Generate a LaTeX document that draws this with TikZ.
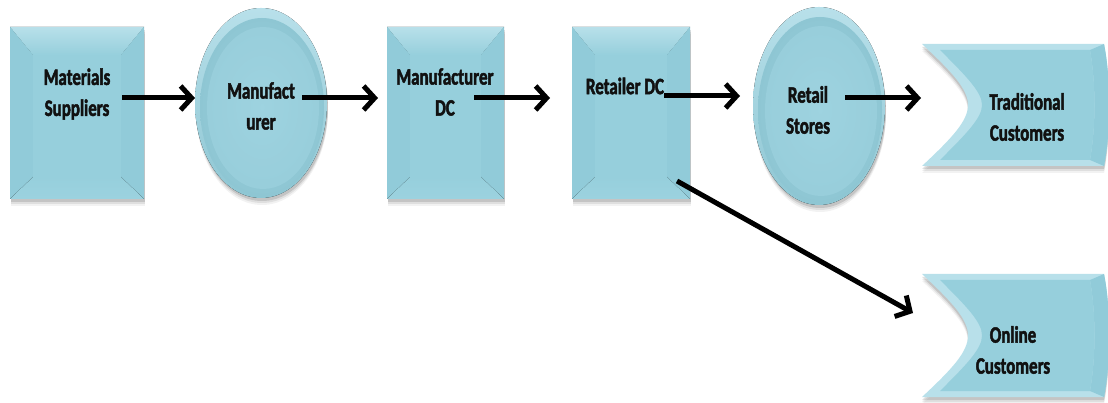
\documentclass[tikz,border=0pt]{standalone}
\usepackage{fontspec}
\setmainfont{Carlito}[FakeStretch=0.72, BoldFeatures={FakeBold=2}]
\usetikzlibrary{arrows.meta,shapes.geometric,calc}

\definecolor{aquabase}{HTML}{96CFDC}
\definecolor{aqualight}{HTML}{B8E0EA}
\definecolor{aquaside}{HTML}{91CBD9}
\definecolor{aquabottom}{HTML}{9CD2DF}
\definecolor{aquarim}{HTML}{8EC6D3}
\definecolor{aquacore}{HTML}{9ED3E0}
\definecolor{labelink}{HTML}{111111}

% bevelled rectangle: x1, y1, x2, y2 (y grows downwards)
\newcommand\bevelbox[4]{%
  \foreach \s/\o in {7/0.05,5/0.08,3/0.12}{%
    \fill[black,opacity=\o] (#1+1,#2+\s) rectangle (#3+1,#4+\s);}
  \fill[aquabase] (#1,#2) rectangle (#3,#4);
  \fill[top color=aqualight,bottom color=aquabase]
    (#1,#2) -- (#3,#2) -- (#3-23,#2+28) -- (#1+23,#2+28) -- cycle;
  \fill[aquaside] (#1,#2) -- (#1+23,#2+28) -- (#1+23,#4-22) -- (#1,#4) -- cycle;
  \fill[aquaside] (#3,#2) -- (#3-23,#2+28) -- (#3-23,#4-22) -- (#3,#4) -- cycle;
  \fill[top color=aquabase,bottom color=aquabottom]
    (#1,#4) -- (#1+23,#4-22) -- (#3-23,#4-22) -- (#3,#4) -- cycle;
  \fill[aquabase] (#1+23,#2+28) rectangle (#3-23,#4-22);
}

% oval with a soft rim: cx, cy, rx, ry
\newcommand\ovalshape[4]{%
  \foreach \s/\o in {7/0.05,5/0.08,3/0.12}{%
    \fill[black,opacity=\o] (#1+1,#2+\s) ellipse [x radius=#3, y radius=#4];}
  \fill[top color=aqualight,bottom color=aquarim]
    (#1,#2) ellipse [x radius=#3, y radius=#4];
  \shade[inner color=aquacore,outer color=aquarim]
    (#1+1,#2+4) ellipse [x radius=#3-4, y radius=#4-6];
  \fill[aquacore,opacity=0.6]
    (#1+2,#2+5) ellipse [x radius=#3-10, y radius=#4-14];
}

% card with a hollow left side: y1, y2
\newcommand\waveshape[2]{%
  \foreach \s/\o in {7/0.05,5/0.08,3/0.12}{%
    \fill[black,opacity=\o] (922,#1+\s) -- (1104,#1+\s)
      .. controls (1111,#1+\s+35) and (1111,#2+\s-35) .. (1104,#2+\s)
      -- (922,#2+\s)
      .. controls (952,#2+\s-28) and (968,#2+\s-45) .. (968,{(#1+#2)/2+\s})
      .. controls (968,#1+\s+45) and (952,#1+\s+28) .. cycle;}
  \fill[aqualight] (922,#1) -- (1104,#1)
      .. controls (1111,#1+35) and (1111,#2-35) .. (1104,#2)
      -- (922,#2)
      .. controls (952,#2-28) and (968,#2-45) .. (968,{(#1+#2)/2})
      .. controls (968,#1+45) and (952,#1+28) .. cycle;
  \fill[aquaside] (1104,#1)
      .. controls (1111,#1+35) and (1111,#2-35) .. (1104,#2)
      -- (1090,#2-6)
      .. controls (1096,#2-40) and (1096,#1+40) .. (1090,#1+6) -- cycle;
  \fill[aquabase] (940,#1+6) -- (1090,#1+6)
      .. controls (1096,#1+40) and (1096,#2-40) .. (1090,#2-6)
      -- (940,#2-6)
      .. controls (966,#2-32) and (982,#2-48) .. (982,{(#1+#2)/2})
      .. controls (982,#1+48) and (966,#1+32) .. cycle;
}

\tikzset{
  label text/.style={font=\fontsize{23.5}{31}\selectfont\bfseries,
    text=labelink, align=center, inner sep=0pt},
  holder/.style={inner sep=0pt, outer sep=0pt},
  flow/.style={line width=5pt, -{Straight Barb[length=11pt,width=24pt]}},
}

\begin{document}
\begin{tikzpicture}[x=1pt,y=-1pt]
  \useasboundingbox (0,0) rectangle (1108,403);
  \clip (0,0) rectangle (1108,403);

  % shapes
  \bevelbox{10}{27}{144}{199}
  \ovalshape{261}{103}{66}{95}
  \bevelbox{387}{27}{504}{199}
  \bevelbox{572}{27}{690}{199}
  \ovalshape{819}{106}{66}{99}
  \waveshape{44}{166}
  \waveshape{274}{397}

  % named outlines of the shapes
  \node[holder, rectangle, minimum width=134pt, minimum height=172pt] (ms) at (77,113) {};
  \node[holder, ellipse, minimum width=132pt, minimum height=190pt] (man) at (261,103) {};
  \node[holder, rectangle, minimum width=117pt, minimum height=172pt] (mdc) at (445.5,113) {};
  \node[holder, rectangle, minimum width=118pt, minimum height=172pt] (rdc) at (631,113) {};
  \node[holder, ellipse, minimum width=132pt, minimum height=198pt] (rs) at (819,106) {};
  \node[holder, rectangle, minimum width=186pt, minimum height=122pt] (tc) at (1015,105) {};
  \node[holder, rectangle, minimum width=186pt, minimum height=123pt] (oc) at (1015,335.5) {};

  % labels
  \node[label text] (ms-t)  at (77,94)   {Materials\\Suppliers};
  \node[label text] (man-t) at (261,106) {Manufact\\urer};
  \node[label text] (mdc-t) at (445,92)  {Manufacturer\\DC};
  \node[label text] (rdc-t) at (625,86)  {Retailer DC};
  \node[label text] (rs-t)  at (808,110) {Retail\\Stores};
  \node[label text] (tc-t)  at (1027,117) {Traditional\\Customers};
  \node[label text] (oc-t)  at (1013,350) {Online\\Customers};

  % flow connectors
  \coordinate (a1) at (122,98);
  \coordinate (a2) at (302,98);
  \coordinate (a3) at (474,98);
  \coordinate (a4) at (664,96);
  \coordinate (a5) at (845,98);
  \coordinate (a6) at (677,181);
  \coordinate (a6e) at (913,313);
  \draw[flow] (a1) -- (a1 -| man.west);
  \draw[flow, shorten >=9pt] (a2) -- (a2 -| mdc.west);
  \draw[flow, shorten >=22pt] (a3) -- (a3 -| rdc.west);
  \draw[flow, shorten >=13pt] (a4) -- (a4 -| rs.west);
  \draw[flow, shorten >=1pt] (a5) -- (a5 -| tc.west);
  \draw[flow] (a6) -- (a6e);
\end{tikzpicture}
\end{document}
